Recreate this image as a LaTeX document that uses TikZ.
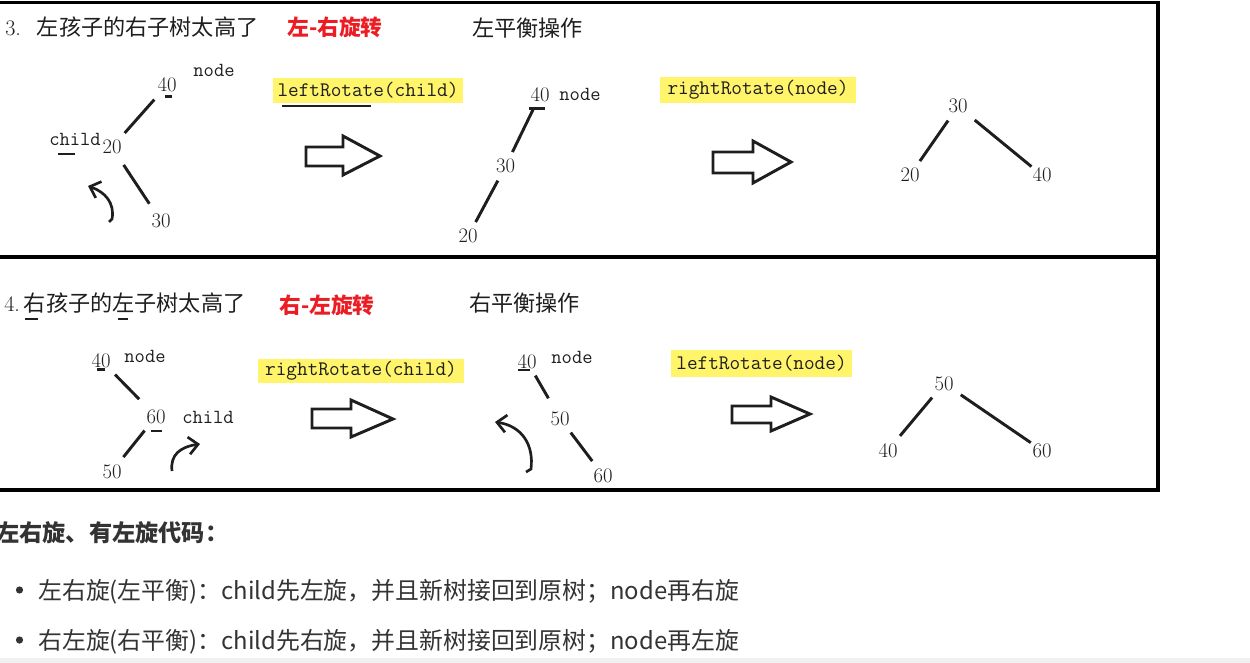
\documentclass[tikz,border=0pt]{standalone}
\usepackage{fontspec}
\newfontfamily\cjk{Noto Sans CJK SC}
\usetikzlibrary{arrows.meta}
\definecolor{hl}{HTML}{FFF46A}
\definecolor{redt}{HTML}{EC1C24}
\definecolor{ink}{HTML}{1E1E1E}
\definecolor{txt}{HTML}{333333}
\definecolor{band}{HTML}{F1F1F1}
\tikzset{
  num/.style={anchor=base, inner sep=5.25pt, font=\fontsize{15.5}{18}\selectfont, text=ink},
  lbl/.style={anchor=base, inner sep=0pt, font=\fontsize{15}{18}\ttfamily, text=ink},
  code/.style={fill=hl, inner sep=0pt, font=\fontsize{15.5}{18}\ttfamily, text=ink},
  head/.style={anchor=west, inner sep=0pt, font=\cjk\fontsize{16.6}{19}\selectfont, text=ink},
  redhead/.style={anchor=west, inner sep=0pt, font=\cjk\bfseries\fontsize{16.3}{19}\selectfont, text=redt},
  edge/.style={line width=2.2pt, draw=ink},
  ulmark/.style={line width=2.2pt, draw=ink},
  bigarrow/.style={line width=2.2pt, line join=miter, draw=ink},
  turn/.style={line width=2pt, draw=ink, -{Straight Barb[length=7pt,width=13pt]}},
  frame/.style={line width=2.3pt, draw=black},
  bottomtext/.style={anchor=west, inner sep=0pt, font=\cjk\fontsize{17.9}{21}\selectfont, text=txt},
}
\begin{document}
\begin{tikzpicture}[x=0.75pt,y=-0.75pt]
\useasboundingbox (0,0) rectangle (1250,663);
% frame
\draw[frame] (0,2.5) -- (1158,2.5) -- (1158,490) -- (0,490);
\draw[frame] (0,257) -- (1158,257);

% ---------- section 3 ----------
\node[head] (h3) at (5,27) {{\rmfamily 3.}\hspace{12pt}左孩子的右子树太高了};
\node[redhead] (red3) at (287,27) {左-右旋转};
\node[head] (bal3) at (472,28) {左平衡操作};

% tree 1
\node[num] (a40) at (167,92) {40};
\node[num] (a20) at (112,154) {20};
\node[num] (a30) at (161,228) {30};
\node[lbl] (lnode1) at (214,77) {node};
\node[lbl] (lchild1) at (75,146) {child};
\draw[edge] (a40) -- (a20);
\draw[edge, shorten <=3pt, shorten >=3pt] (a20) -- (a30);
\draw[ulmark] (165,96.5) -- (172,96.5);
\draw[ulmark] (58,154) -- (75,154);
\draw[turn] (109,222) -- (112,219) .. controls (115,203) and (105,192) .. (88,186);

\node[code, minimum width=142.5pt, minimum height=18.75pt] (rot1) at (368,90.5) {leftRotate(child)};
\draw[line width=1.3pt, draw=ink] (282,106) -- (371,106);
\draw[bigarrow] (306,147) -- (343,147) -- (343,136) -- (380,156) -- (343,175) -- (343,166) -- (306,166) -- cycle;

% tree 2
\node[num] (b40) at (540,102) {40};
\node[num] (b30) at (505.5,173) {30};
\node[num] (b20) at (468,243) {20};
\node[lbl] (lnode2) at (580,101) {node};
\draw[edge] (b40) -- (b30);
\draw[edge] (b30) -- (b20);
\draw[ulmark] (529,108.5) -- (545,108.5);

\node[code, minimum width=147pt, minimum height=19.5pt] (rot2) at (758,90) {rightRotate(node)};
\draw[bigarrow] (713,152) -- (753,152) -- (753,141) -- (791,162) -- (753,183) -- (753,173) -- (713,173) -- cycle;

% tree 3
\node[num] (c30) at (958,113) {30};
\node[num] (c20) at (910,182) {20};
\node[num] (c40) at (1042,182) {40};
\draw[edge] (c30) -- (c20);
\draw[edge, shorten >=-6pt] (c30) -- (c40);

% ---------- section 4 ----------
\node[head] (h4) at (4,303) {{\rmfamily 4.}\hspace{3pt}右孩子的左子树太高了};
\draw[ulmark] (25,319) -- (38,319);
\draw[ulmark] (118,319) -- (128,319);
\node[redhead] (red4) at (279,305) {右-左旋转};
\node[head] (bal4) at (469,303) {右平衡操作};

% tree 4
\node[num] (d40) at (101,367) {40};
\node[num] (d60) at (156,423) {60};
\node[num] (d50) at (112,478) {50};
\node[lbl] (lnode3) at (145,362) {node};
\node[lbl] (lchild3) at (208,423) {child};
\draw[edge, shorten >=3pt] (d40) -- (d60);
\draw[edge] (d60) -- (d50);
\draw[ulmark] (97,369.5) -- (105,369.5);
\draw[ulmark] (151,431) -- (162,431);
\draw[turn] (172,471) .. controls (170,455) and (180,447) .. (200,444);

\node[code, minimum width=154.5pt, minimum height=18pt] (rot3) at (361,371) {rightRotate(child)};
\draw[bigarrow] (312,409) -- (351,409) -- (351,400) -- (393,419) -- (351,437) -- (351,428) -- (312,428) -- cycle;

% tree 5
\node[num] (e40) at (527,368) {40};
\node[num] (e50) at (560,425) {50};
\node[num] (e60) at (603,482) {60};
\node[lbl] (lnode4) at (572,363) {node};
\draw[edge, shorten >=5pt] (e40) -- (e50);
\draw[edge] (e50) -- (e60);
\draw[ulmark] (518,370) -- (530,370);
\draw[turn] (526,472) -- (531,469) .. controls (534,445) and (522,426) .. (495,422);

\node[code, minimum width=135.75pt, minimum height=20.25pt] (rot4) at (761.5,363.5) {leftRotate(node)};
\draw[bigarrow] (732,406) -- (771,406) -- (771,397) -- (810,414) -- (771,431) -- (771,423) -- (732,423) -- cycle;

% tree 6
\node[num] (f50) at (944,390) {50};
\node[num] (f40) at (888,457) {40};
\node[num] (f60) at (1042,457) {60};
\draw[edge] (f50) -- (f40);
\draw[edge, shorten >=-5pt] (f50) -- (f60);

% ---------- bottom text ----------
\node[bottomtext, font=\cjk\bfseries\fontsize{17.4}{20}\selectfont] (title) at (-4,533) {左右旋、有左旋代码：};
\fill[txt] (19.5,590) circle (2.7pt);
\fill[txt] (19.5,640) circle (2.7pt);
\node[bottomtext] (item1) at (38,592) {左右旋(左平衡)：child先左旋，并且新树接回到原树；node再右旋};
\node[bottomtext] (item2) at (38,642) {右左旋(右平衡)：child先右旋，并且新树接回到原树；node再左旋};
\fill[band] (0,658) rectangle (1250,663);
\end{tikzpicture}
\end{document}
